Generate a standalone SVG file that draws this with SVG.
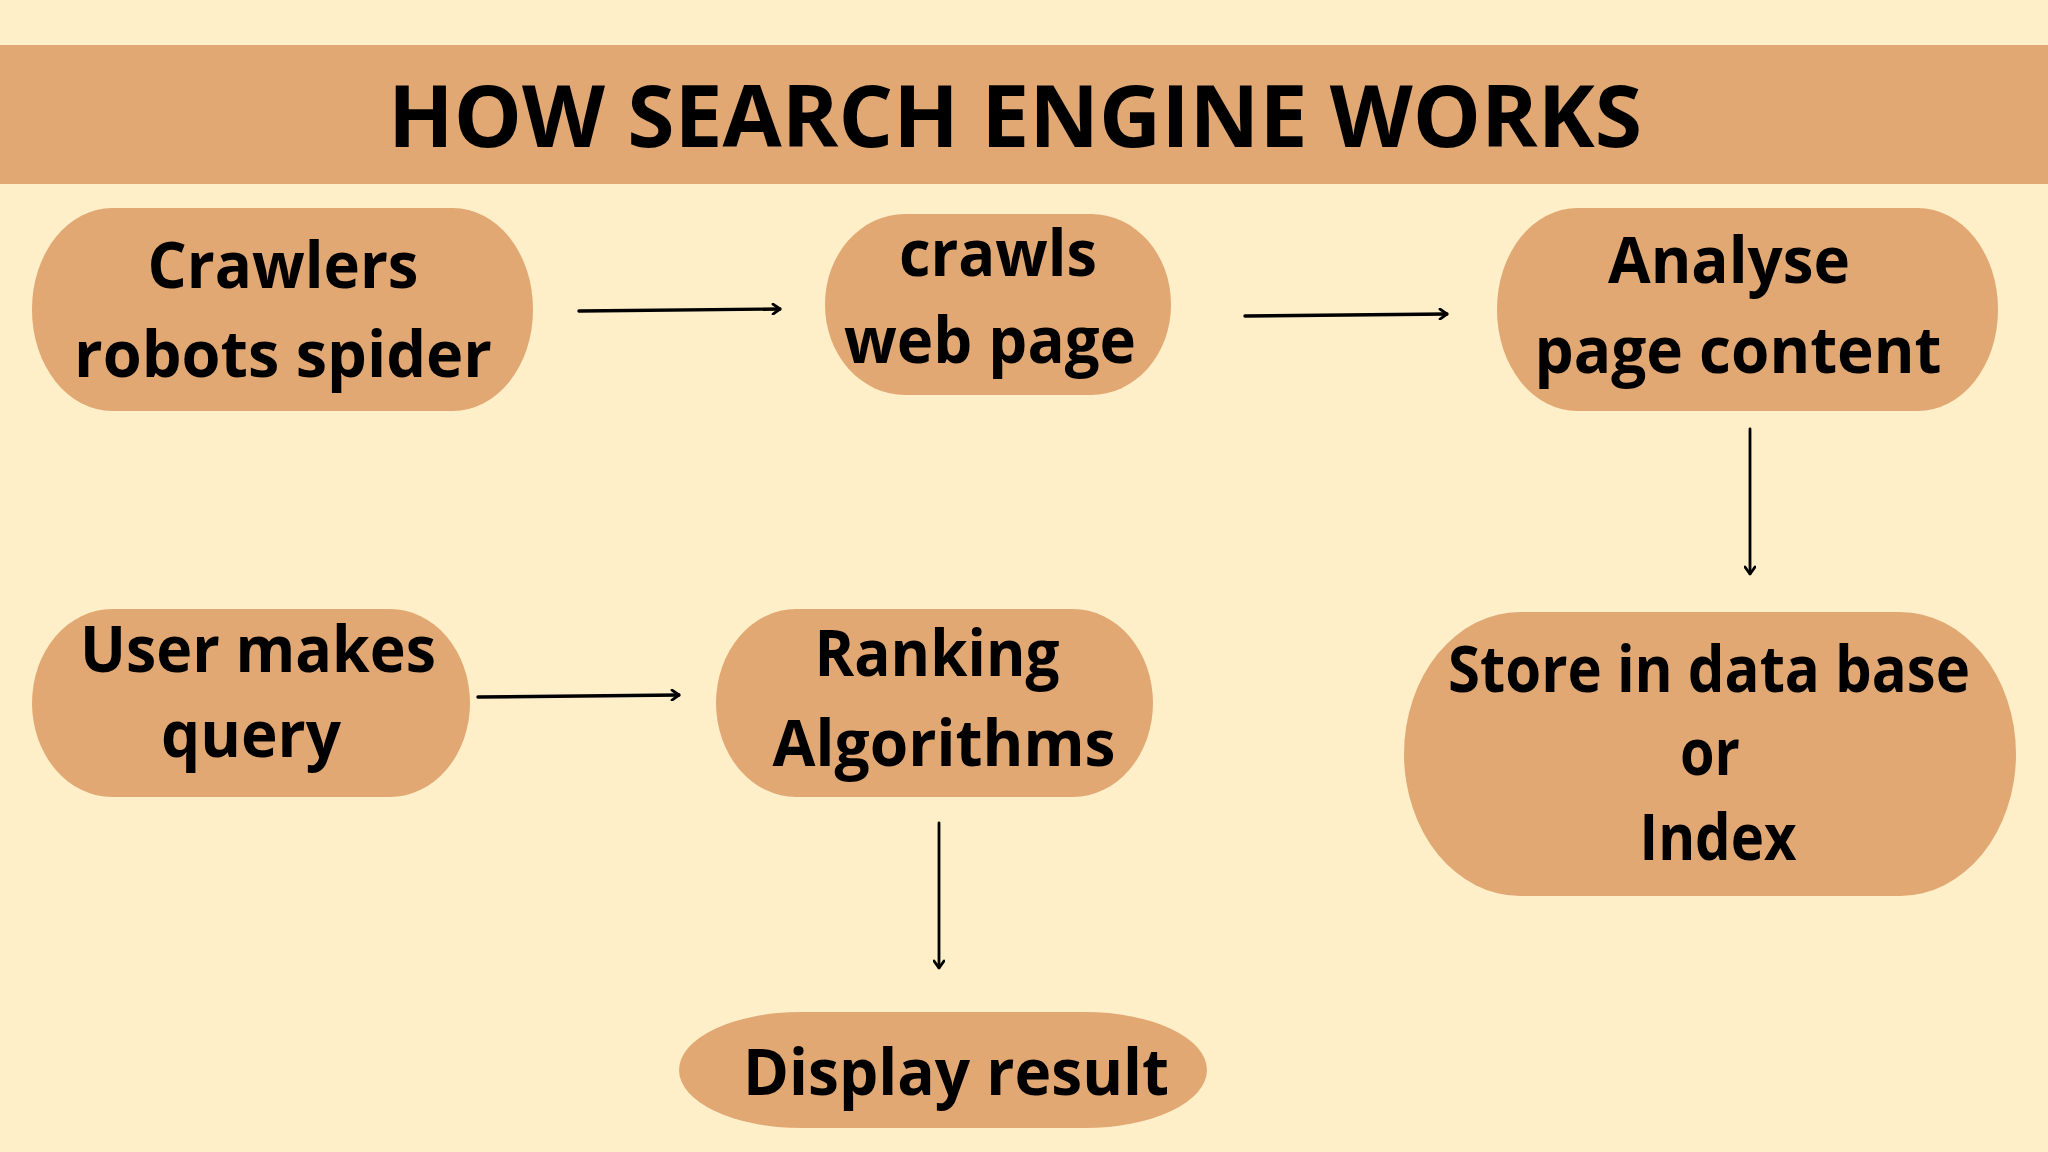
<svg xmlns="http://www.w3.org/2000/svg" width="2048" height="1152" viewBox="0 0 2048 1152">
<defs>
<style>
.bg{fill:#FEEFC8}
.band{fill:#E2A874}
.node{fill:#E2A874}
.t{font-family:"Open Sans","Noto Sans","Liberation Sans",sans-serif;font-weight:700;fill:#000;text-anchor:middle}
.lbl{font-size:64px}
.title{font-size:86px}
.edge{stroke:#000;stroke-width:3.4;fill:none;stroke-linecap:round}
.edge.v{stroke-width:2.8}
</style>
<marker id="ah" viewBox="0 0 10 12" refX="9" refY="6" markerWidth="10" markerHeight="12" markerUnits="userSpaceOnUse" orient="auto">
<path d="M2,1 L9,6 L2,11" fill="none" stroke="#000" stroke-width="2.8" stroke-linecap="round" stroke-linejoin="round"/>
</marker>
</defs>
<rect class="bg" x="0" y="0" width="2048" height="1152"/>
<g id="header">
<rect class="band" x="0" y="45" width="2048" height="139"/>
<text class="t title" x="1015" y="147" textLength="1254" lengthAdjust="spacingAndGlyphs">HOW SEARCH ENGINE WORKS</text>
</g>
<g id="connectors">
<line class="edge" x1="579" y1="311" x2="780" y2="309" marker-end="url(#ah)"/>
<line class="edge" x1="1245" y1="316" x2="1447" y2="314" marker-end="url(#ah)"/>
<line class="edge v" x1="1750" y1="429" x2="1750" y2="574" marker-end="url(#ah)"/>
<line class="edge" x1="478" y1="697" x2="679" y2="695" marker-end="url(#ah)"/>
<line class="edge v" x1="939" y1="823" x2="939" y2="968" marker-end="url(#ah)"/>
</g>
<g id="node-crawlers">
<rect class="node" x="32" y="208" width="501" height="203" rx="80" ry="101"/>
<text class="t lbl" x="283" y="288" textLength="271" lengthAdjust="spacingAndGlyphs">Crawlers</text>
<text class="t lbl" x="283" y="377" textLength="418" lengthAdjust="spacingAndGlyphs">robots spider</text>
</g>
<g id="node-crawls">
<rect class="node" x="825" y="214" width="346" height="181" rx="80" ry="90"/>
<text class="t lbl" x="998" y="276" textLength="198" lengthAdjust="spacingAndGlyphs">crawls</text>
<text class="t lbl" x="990" y="363" textLength="292" lengthAdjust="spacingAndGlyphs">web page</text>
</g>
<g id="node-analyse">
<rect class="node" x="1497" y="208" width="501" height="203" rx="80" ry="101"/>
<text class="t lbl" x="1729" y="283" textLength="242" lengthAdjust="spacingAndGlyphs">Analyse</text>
<text class="t lbl" x="1738" y="373" textLength="407" lengthAdjust="spacingAndGlyphs">page content</text>
</g>
<g id="node-store">
<rect class="node" x="1404" y="612" width="612" height="284" rx="116" ry="142"/>
<text class="t lbl" x="1709" y="692" textLength="522" lengthAdjust="spacingAndGlyphs">Store in data base</text>
<text class="t lbl" x="1710" y="775" textLength="60" lengthAdjust="spacingAndGlyphs">or</text>
<text class="t lbl" x="1718" y="860" textLength="157" lengthAdjust="spacingAndGlyphs">Index</text>
</g>
<g id="node-user">
<rect class="node" x="32" y="609" width="438" height="188" rx="80" ry="94"/>
<text class="t lbl" x="258" y="672" textLength="356" lengthAdjust="spacingAndGlyphs">User makes</text>
<text class="t lbl" x="251" y="757" textLength="180" lengthAdjust="spacingAndGlyphs">query</text>
</g>
<g id="node-ranking">
<rect class="node" x="716" y="609" width="437" height="188" rx="80" ry="94"/>
<text class="t lbl" x="937" y="676" textLength="245" lengthAdjust="spacingAndGlyphs">Ranking</text>
<text class="t lbl" x="944" y="766" textLength="343" lengthAdjust="spacingAndGlyphs">Algorithms</text>
</g>
<g id="node-display">
<rect class="node" x="679" y="1012" width="528" height="116" rx="122" ry="58"/>
<text class="t lbl" x="956" y="1095" textLength="426" lengthAdjust="spacingAndGlyphs">Display result</text>
</g>
</svg>
